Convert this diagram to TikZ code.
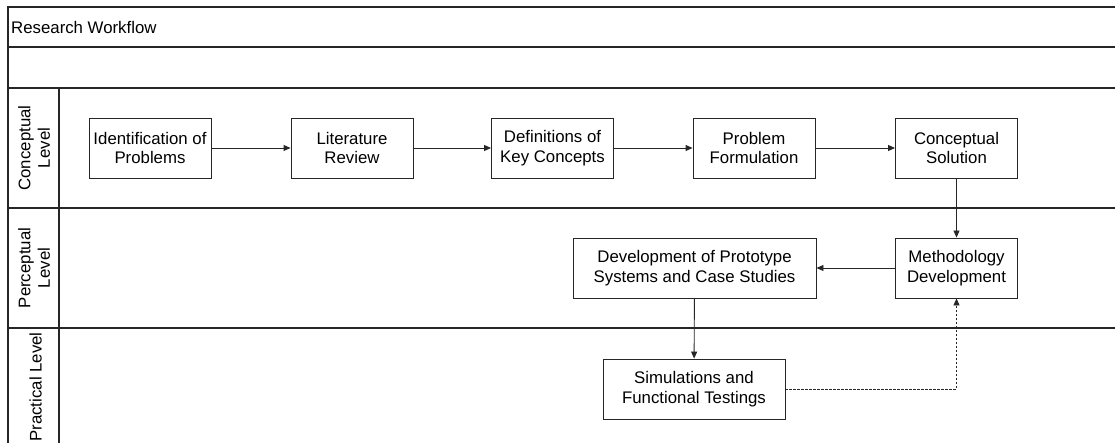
\documentclass[tikz,border=0pt]{standalone}
\usepackage{fontspec}
\setmainfont{Liberation Sans}
\usetikzlibrary{arrows.meta}
\begin{document}
\begin{tikzpicture}[x=1pt,y=-1pt,
  every node/.style={font=\fontsize{16.8}{19.5}\selectfont},
  stepbox/.style={draw=black!85,line width=0.9pt,fill=white,minimum width=122pt,
    minimum height=60pt,align=center,inner sep=1pt},
  lanerule/.style={draw=black!85,line width=1.1pt},
  flow/.style={draw=black!85,line width=0.9pt,-{Triangle[length=7pt,width=6pt]}},
  feedback/.style={flow,dash pattern=on 2.5pt off 1.5pt},
  lanelabel/.style={rotate=90,align=center,inner sep=0pt}]
\useasboundingbox (0,0) rectangle (1115,443);
% swimlane frame
\draw[lanerule] (1115,7) -- (8,7) -- (8,443);
\draw[lanerule] (8,47) -- (1115,47);
\draw[lanerule] (8,88) -- (1115,88);
\draw[lanerule] (8,208) -- (1115,208);
\draw[lanerule] (8,328) -- (1115,328);
\draw[lanerule] (59,88) -- (59,443);
% titles
\node[anchor=west,inner sep=0pt] (title) at (11,27.5) {Research Workflow};
\node[lanelabel] (lconc) at (34,148) {Conceptual\\Level};
\node[lanelabel] (lperc) at (34,268) {Perceptual\\Level};
\node[lanelabel] (lprac) at (35.5,387) {Practical Level};
% process steps
\node[stepbox] (ident) at (150,148) {Identification of\\Problems};
\node[stepbox] (lit) at (352,148) {Literature\\Review};
\node[stepbox] (defs) at (552.5,148) {Definitions of\\Key Concepts};
\node[stepbox] (prob) at (754,148) {Problem\\Formulation};
\node[stepbox] (csol) at (956.5,148) {Conceptual\\Solution};
\node[stepbox] (meth) at (956.5,268) {Methodology\\Development};
\node[stepbox,minimum width=243pt] (proto) at (694.5,268) {Development of Prototype\\Systems and Case Studies};
\node[stepbox,minimum width=182pt] (sim) at (694,389) {Simulations and\\Functional Testings};
% connectors
\draw[flow] (ident) -- (lit);
\draw[flow] (lit) -- (defs);
\draw[flow] (defs) -- (prob);
\draw[flow] (prob) -- (csol);
\draw[flow] (csol) -- (meth);
\draw[flow] (meth) -- (proto);
\draw[flow] (proto) -- (sim);
\draw[feedback] (sim.east) -| (meth.south);
\end{tikzpicture}
\end{document}
